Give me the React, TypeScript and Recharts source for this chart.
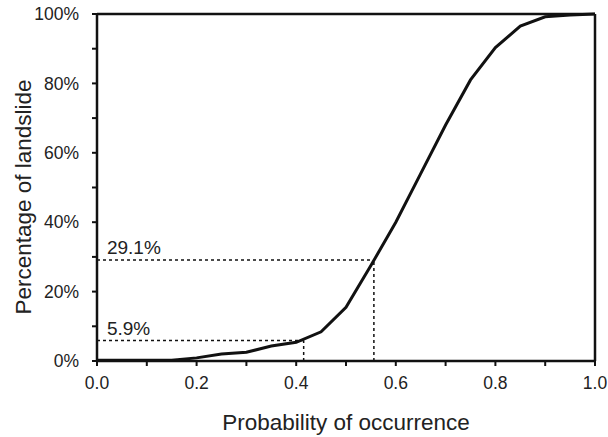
import React from 'react';
import { LineChart, Line, XAxis, YAxis, ReferenceLine, ReferenceDot } from 'recharts';

const probability = [0, 0.05, 0.1, 0.15, 0.2, 0.25, 0.3, 0.35, 0.4, 0.45, 0.5, 0.55, 0.6, 0.65, 0.7, 0.75, 0.8, 0.85, 0.9, 0.95, 1.0];
const percentage = [0.2, 0.2, 0.2, 0.2, 0.9, 2.0, 2.5, 4.3, 5.4, 8.4, 15.5, 27.5, 40, 54, 68, 81, 90.3, 96.5, 99.2, 99.7, 100];

const xTicks = [0, 0.1, 0.2, 0.3, 0.4, 0.5, 0.6, 0.7, 0.8, 0.9, 1.0];
const xTickLabels = ['0.0', '', '0.2', '', '0.4', '', '0.6', '', '0.8', '', '1.0'];
const yTicks = [0, 10, 20, 30, 40, 50, 60, 70, 80, 90, 100];
const yTickLabels = ['0%', '', '20%', '', '40%', '', '60%', '', '80%', '', '100%'];

const markers = [
  { x: 0.415, y: 5.9, label: '5.9%' },
  { x: 0.556, y: 29.1, label: '29.1%' },
];

const data = probability.map((p, i) => ({ p, v: percentage[i] }));

const FONT = '"Liberation Sans", Arial, sans-serif';
const INK = '#111';
const TXT = '#222';

export default function App() {
  return (
    <div style={{ position: 'absolute', left: 0, top: 0, width: 608, height: 437, background: '#fff' }}>
      <LineChart width={608} height={437} data={data} margin={{ top: 14, right: 13, left: 0, bottom: 0 }} style={{ fontFamily: FONT }}>
        <XAxis
          dataKey="p"
          type="number"
          domain={[0, 1]}
          ticks={xTicks}
          tickFormatter={(v: number) => xTickLabels[xTicks.findIndex((t) => Math.abs(t - v) < 1e-9)] ?? ''}
          height={76}
          tickSize={5}
          tickMargin={11}
          axisLine={{ stroke: INK, strokeWidth: 2.5 }}
          tickLine={{ stroke: INK, strokeWidth: 2 }}
          tick={{ fill: TXT, fontSize: 17.5, fontFamily: FONT }}
          interval={0}
          label={{
            content: (props: any) => {
              const vb = props.viewBox;
              return (
                <text x={vb.x + vb.width / 2} y={vb.y + 69} textAnchor="middle" fill={TXT} fontSize={22.5} fontFamily={FONT}>
                  Probability of occurrence
                </text>
              );
            },
          }}
        />
        <YAxis
          type="number"
          domain={[0, 100]}
          ticks={yTicks}
          tickFormatter={(v: number) => yTickLabels[yTicks.indexOf(v)] ?? ''}
          width={97}
          tickSize={5}
          tickMargin={13}
          axisLine={{ stroke: INK, strokeWidth: 2.5 }}
          tickLine={{ stroke: INK, strokeWidth: 2 }}
          tick={{ fill: TXT, fontSize: 17.5, fontFamily: FONT }}
          interval={0}
          label={{
            content: (props: any) => {
              const vb = props.viewBox;
              const cx = vb.x + 31;
              const cy = vb.y + vb.height / 2 + 9.5;
              return (
                <text x={cx} y={cy} transform={`rotate(-90, ${cx}, ${cy})`} textAnchor="middle" fill={TXT} fontSize={22.5} fontFamily={FONT}>
                  Percentage of landslide
                </text>
              );
            },
          }}
        />
        <ReferenceLine y={100} stroke={INK} strokeWidth={2.5} />
        <ReferenceLine x={1} stroke={INK} strokeWidth={2.5} />
        {markers.map((m) => (
          <ReferenceLine
            key={'h' + m.label}
            segment={[{ x: 0, y: m.y }, { x: m.x, y: m.y }]}
            stroke={INK}
            strokeWidth={1.5}
            strokeDasharray="3 3"
          />
        ))}
        {markers.map((m) => (
          <ReferenceLine
            key={'v' + m.label}
            segment={[{ x: m.x, y: 0 }, { x: m.x, y: m.y }]}
            stroke={INK}
            strokeWidth={1.5}
            strokeDasharray="3 3"
          />
        ))}
        {markers.map((m) => (
          <ReferenceDot
            key={'d' + m.label}
            x={0.02}
            y={m.y}
            r={0}
            fill="none"
            stroke="none"
            label={{
              content: (props: any) => {
                const vb = props.viewBox;
                return (
                  <text x={vb.x} y={vb.y - 6} fill={TXT} fontSize={19} fontFamily={FONT}>
                    {m.label}
                  </text>
                );
              },
            }}
          />
        ))}
        <Line type="linear" dataKey="v" stroke={INK} strokeWidth={3} dot={false} isAnimationActive={false} />
      </LineChart>
    </div>
  );
}
